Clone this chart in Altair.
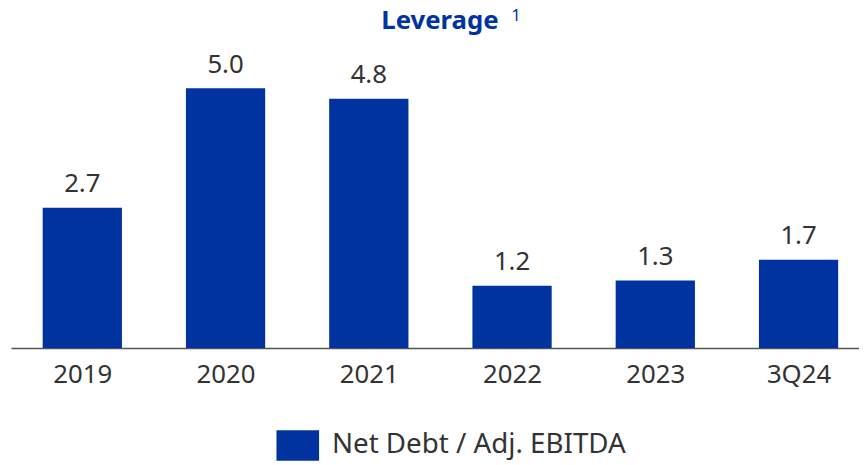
import altair as alt
import pandas as pd

years = ["2019", "2020", "2021", "2022", "2023", "3Q24"]
values = [2.7, 5.0, 4.8, 1.2, 1.3, 1.7]
series = ["Net Debt / Adj. EBITDA"] * len(years)
title_text = ["Leverage"]
footnote_mark = ["1"]

df = pd.DataFrame({"idx": list(range(len(years))), "year": years, "value": values, "series": series})

BLUE = "#0033a0"
TXT = "#333333"
FONT = "Noto Sans"

label_expr = "[" + ",".join("'%s'" % y_ for y_ in years) + "][datum.value]"

x = alt.X("idx:Q", title=None,
          scale=alt.Scale(domain=[-0.498, 5.422], nice=False, zero=False, padding=0),
          axis=alt.Axis(values=list(range(len(years))), labelExpr=label_expr,
                        ticks=False, labelPadding=14, labelFontSize=26, labelFlush=False,
                        labelOverlap=False, labelColor=TXT, labelFont=FONT,
                        domainColor="#555555", domainWidth=1.5, grid=False))
y = alt.Y("value:Q", title=None,
          scale=alt.Scale(domain=[0, 5.744], nice=False, zero=True, padding=0),
          axis=None)

bars = alt.Chart(df).mark_bar(size=80).encode(
    x=x, y=y,
    color=alt.Color("series:N", scale=alt.Scale(range=[BLUE]),
                    legend=alt.Legend(title=None, orient="none", legendX=268, legendY=378,
                                      symbolType="M-1,-0.72H1V0.72H-1Z", symbolSize=1849,
                                      symbolStrokeWidth=0, symbolOpacity=1,
                                      labelFontSize=28, labelColor=TXT, labelFont=FONT,
                                      labelOffset=13, labelLimit=600))
)

labels = alt.Chart(df).mark_text(baseline="bottom", dy=-11, fontSize=26, color=TXT, font=FONT).encode(
    x="idx:Q", y="value:Q", text=alt.Text("value:Q", format=".1f")
)

title = alt.Chart(pd.DataFrame({"t": title_text})).mark_text(
    fontSize=26, color=BLUE, font=FONT, fontWeight="bold", align="center", baseline="alphabetic"
).encode(x=alt.value(433), y=alt.value(-21), text="t:N")

sup = alt.Chart(pd.DataFrame({"t": footnote_mark})).mark_text(
    fontSize=17, color=BLUE, font=FONT, align="left", baseline="alphabetic"
).encode(x=alt.value(505), y=alt.value(-29), text="t:N")

chart = alt.layer(bars, labels, title, sup).properties(
    width=856, height=301,
    autosize=alt.AutoSizeParams(type="none"),
    padding={"left": 3, "right": 0, "top": 40, "bottom": 114},
).configure_view(stroke=None)

chart.save("out.html", embed_options={"renderer": "svg", "actions": False})
